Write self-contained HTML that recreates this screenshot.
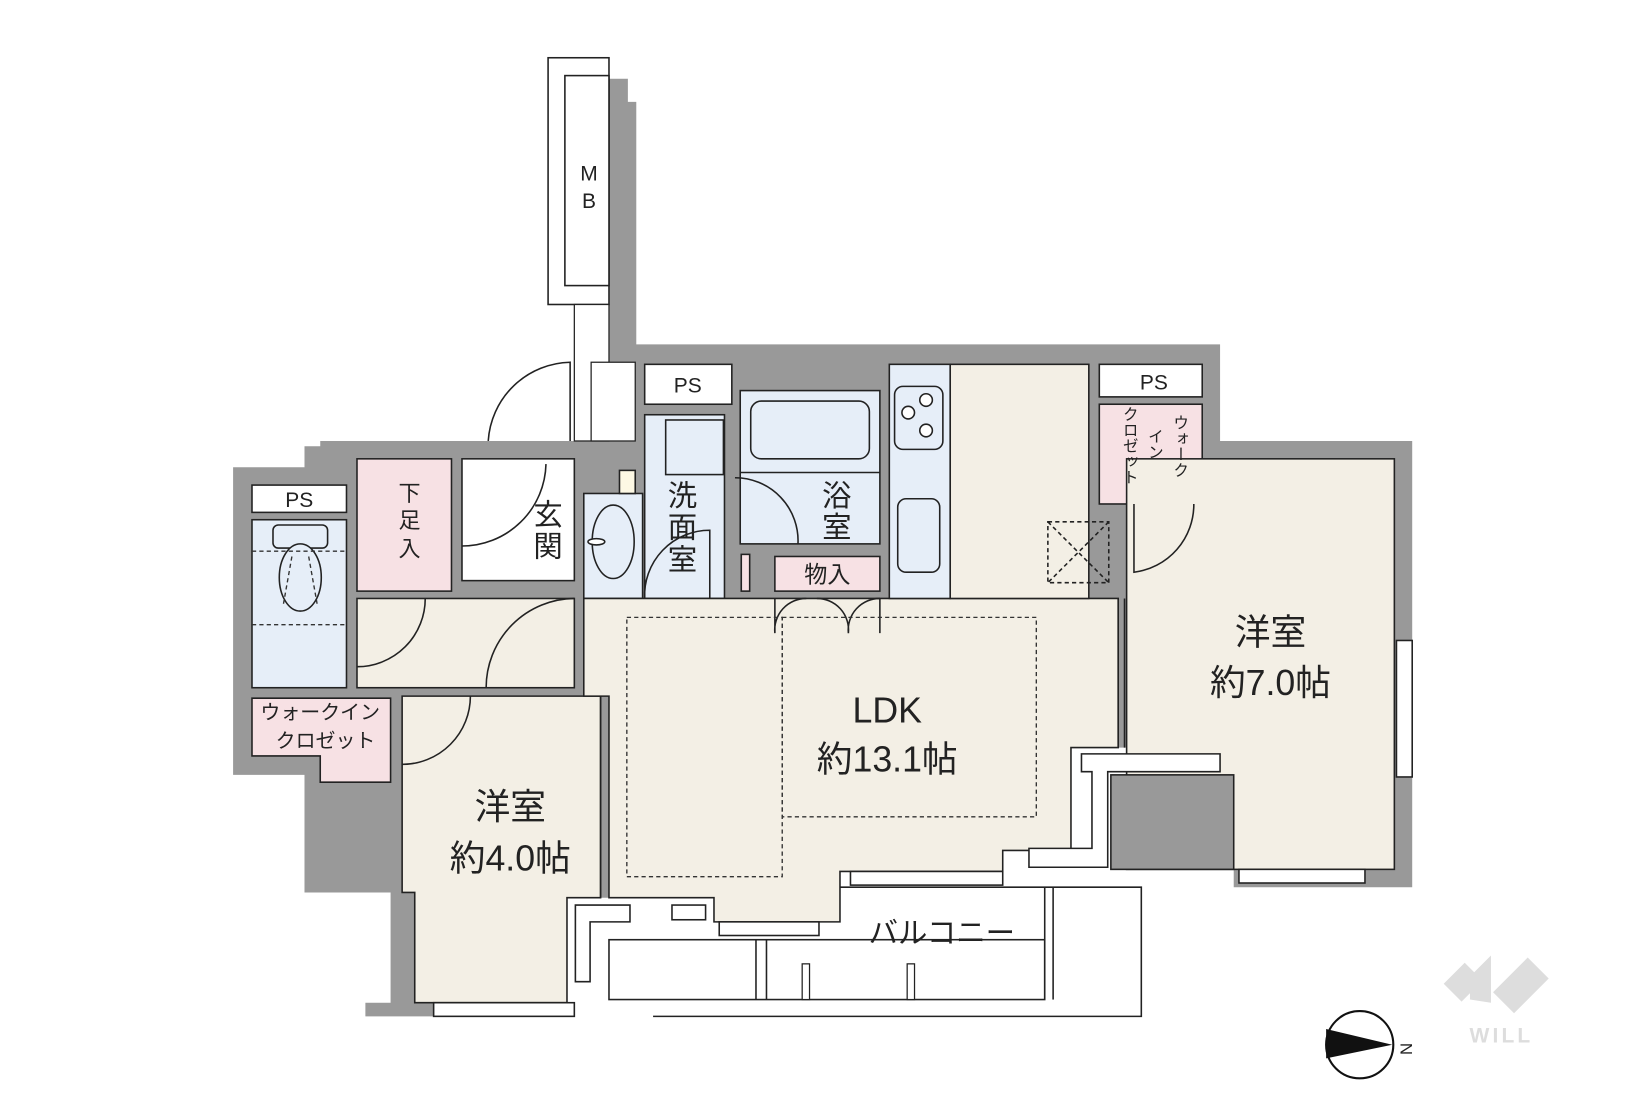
<!DOCTYPE html>
<html><head><meta charset="utf-8"><style>
html,body{margin:0;padding:0;background:#fff;}
svg{display:block;}
text{font-family:"Liberation Sans","Noto Sans CJK JP",sans-serif;fill:#222;}
</style></head><body>
<svg width="1639" height="1093" viewBox="0 0 1561 1041" preserveAspectRatio="none" xmlns="http://www.w3.org/2000/svg">
<rect width="1561" height="1041" fill="#fff"/>
<path d="M800,845 H1087 V968 H622" fill="#fff" stroke="#222" stroke-width="1.5"/>
<rect x="580" y="895" width="415" height="57" fill="#fff" stroke="#222" stroke-width="1.5"/>
<line x1="995" y1="845" x2="995" y2="952" stroke="#222" stroke-width="1.5"/>
<line x1="1003" y1="845" x2="1003" y2="952" stroke="#222" stroke-width="1.5"/>
<line x1="720" y1="895" x2="720" y2="952" stroke="#222" stroke-width="1.5"/>
<line x1="730" y1="895" x2="730" y2="952" stroke="#222" stroke-width="1.5"/>
<rect x="764" y="918" width="7" height="34" fill="#fff" stroke="#222" stroke-width="1.2"/>
<rect x="864" y="918" width="7" height="34" fill="#fff" stroke="#222" stroke-width="1.2"/>
<path d="M222,445 H290 V425 H305 V420 H547 V345 H580 V75 H598 V97 H606 V328 H1162 V420 H1345 V845 H1175 V712 H1020 V810 H955 V830 H800 V878 H680 V855 H540 V955 H547 V968 H348 V955 H372 V850 H290 V738 H222 Z" fill="#999"/>
<rect x="522" y="55" width="58" height="235" fill="#fff" stroke="#222" stroke-width="1.5"/>
<rect x="538" y="72" width="42" height="200" fill="#fff" stroke="#222" stroke-width="1.5"/>
<text x="561" y="172" font-size="20" text-anchor="middle">M</text>
<text x="561" y="198" font-size="20" text-anchor="middle">B</text>
<rect x="547" y="290" width="33" height="130" fill="#fff" stroke="#222" stroke-width="1.2"/>
<rect x="563" y="345" width="42" height="75" fill="#fff" stroke="#222" stroke-width="1.2"/>
<g stroke="#222" stroke-width="1.5">
<rect x="240" y="462" width="90" height="26" fill="#fff"/>
<rect x="240" y="495" width="90" height="160" fill="#e6eef8"/>
<rect x="340" y="437" width="90" height="126" fill="#f7e1e4"/>
<rect x="440" y="437" width="107" height="116" fill="#fff"/>
<rect x="340" y="570" width="207" height="85" fill="#f3efe5"/>
<path d="M240,665 H372 V745 H305 V720 H240 Z" fill="#f7e1e4"/>
<path d="M383,663 H572 V855 H540 V955 H395 V850 H383 Z" fill="#f3efe5"/>
<rect x="556" y="470" width="56" height="100" fill="#e6eef8"/>
<rect x="590" y="448" width="15" height="22" fill="#fdf8e4"/>
<rect x="614" y="395" width="76" height="175" fill="#e6eef8"/>
<rect x="614" y="347" width="83" height="38" fill="#fff"/>
<rect x="705" y="372" width="133" height="146" fill="#e6eef8"/>
<line x1="705" y1="450" x2="838" y2="450"/>
<rect x="738" y="530" width="100" height="33" fill="#f7e1e4"/>
<path d="M556,570 H1065 V712 H1020 V810 H955 V830 H800 V878 H680 V855 H580 V663 H556 Z" fill="#f3efe5"/>
<rect x="847" y="347" width="58" height="223" fill="#e6eef8"/>
<rect x="905" y="347" width="132" height="223" fill="#f3efe5"/>
<rect x="1047" y="347" width="98" height="31" fill="#fff"/>
<rect x="1047" y="385" width="98" height="95" fill="#f7e1e4"/>
<rect x="1073" y="437" width="255" height="391" fill="#f3efe5"/>
<rect x="1058" y="738" width="117" height="90" fill="#999"/>
<path d="M1030,718 H1162 V735 H1055 V826 H980 V808 H1040 V735 H1030 Z" fill="#fff"/>
<path d="M548,862 H600 V878 H562 V935 H548 Z" fill="#fff"/>
<rect x="640" y="862" width="32" height="14" fill="#fff"/>
<rect x="413" y="955" width="134" height="13" fill="#fff"/>
<rect x="685" y="878" width="95" height="13" fill="#fff"/>
<rect x="810" y="830" width="145" height="13" fill="#fff"/>
<rect x="1180" y="828" width="120" height="13" fill="#fff"/>
<rect x="1330" y="610" width="15" height="130" fill="#fff"/>
<line x1="1065" y1="570" x2="1065" y2="712"/>
<line x1="1071" y1="570" x2="1071" y2="712"/>
<line x1="572" y1="663" x2="572" y2="855"/>
<rect x="852" y="368" width="46" height="60" rx="8" fill="#e6eef8"/>
<circle cx="865" cy="393" r="6" fill="#fff"/><circle cx="882" cy="381" r="6" fill="#fff"/><circle cx="882" cy="410" r="6" fill="#fff"/>
<rect x="855" y="475" width="40" height="70" rx="8" fill="#e6eef8"/>
<rect x="715" y="382" width="113" height="55" rx="10" fill="#e6eef8"/>
<ellipse cx="584" cy="516" rx="20" ry="35" fill="#e6eef8"/>
<ellipse cx="568" cy="516" rx="8" ry="3" fill="#fff"/>
<rect x="260" y="500" width="52" height="22" rx="5" fill="#e6eef8"/>
<ellipse cx="286" cy="550" rx="20" ry="32" fill="#e6eef8"/>
<rect x="634" y="400" width="55" height="52" fill="none"/>
<rect x="998" y="497" width="58" height="58" fill="none" stroke-dasharray="4,3"/>
<path d="M998,497 L1056,555 M1056,497 L998,555" fill="none" stroke-dasharray="4,3"/>
<path d="M440,520 A80,80 0 0 0 520,442" fill="none"/>
<path d="M465,420 A80,80 0 0 1 543,345 V420" fill="none"/>
<path d="M340,635 A65,65 0 0 0 405,570" fill="none"/>
<path d="M463,655 A85,85 0 0 1 547,570" fill="none"/>
<path d="M383,728 A65,65 0 0 0 448,663" fill="none"/>
<path d="M614,570 A62,62 0 0 1 676,505 V570" fill="none"/>
<path d="M700,455 A60,60 0 0 1 760,518" fill="none"/>
<path d="M1080,480 V545 A65,65 0 0 0 1137,480" fill="none"/>
<path d="M738,603 A30,30 0 0 1 768,570 M808,603 A30,30 0 0 0 778,570 M808,603 A30,30 0 0 1 838,570 M738,570 V603 M838,570 V603" fill="none"/>
<rect x="706" y="528" width="8" height="35" fill="#f7e1e4"/>
</g>
<g fill="none" stroke="#333" stroke-width="1.3" stroke-dasharray="4,3">
<rect x="597" y="588" width="148" height="247"/>
<rect x="745" y="588" width="242" height="190"/>
<path d="M240,525 H330 M240,595 H330 M278,530 L270,575 M294,530 L302,575"/>
</g>
<g font-size="20" text-anchor="middle">
<text x="285" y="483">PS</text>
<text x="655" y="374">PS</text>
<text x="1099" y="371">PS</text>
</g>
<g font-size="24" text-anchor="middle">
<text x="390" y="477" font-size="21">下</text><text x="390" y="503" font-size="21">足</text><text x="390" y="530" font-size="21">入</text>
<text x="522" y="500" font-size="28">玄</text><text x="522" y="530" font-size="28">関</text>
<text x="650" y="482" font-size="28">洗</text><text x="650" y="512" font-size="28">面</text><text x="650" y="543" font-size="28">室</text>
<text x="797" y="482" font-size="28">浴</text><text x="797" y="512" font-size="28">室</text>
<text x="788" y="555" font-size="22">物入</text>
<text x="305" y="685" font-size="19">ウォークイン</text>
<text x="310" y="712" font-size="19">クロゼット</text>
</g>
<g font-size="15" text-anchor="start">
<text x="1123" y="395" writing-mode="tb">ウォーク</text>
<text x="1099" y="408" writing-mode="tb">イン</text>
<text x="1075" y="387" writing-mode="tb">クロゼット</text>
</g>
<g text-anchor="middle">
<text x="845" y="688" font-size="34">LDK</text>
<text x="845" y="735" font-size="34">約13.1帖</text>
<text x="1210" y="614" font-size="34">洋室</text>
<text x="1210" y="662" font-size="34">約7.0帖</text>
<text x="486" y="780" font-size="34">洋室</text>
<text x="486" y="829" font-size="34">約4.0帖</text>
<text x="897" y="898" font-size="28">バルコニー</text>
</g>
<circle cx="1295" cy="995" r="32" fill="#fff" stroke="#111" stroke-width="2"/>
<path d="M1263,980 L1326,995 L1263,1008 Z" fill="#111"/>
<text x="1340" y="1005" font-size="16" transform="rotate(90 1340 999)" text-anchor="middle">N</text>
<g fill="#ddd">
<path d="M1375,937 L1395,917 L1412,934 L1392,954 Z"/>
<path d="M1400,930 L1420,910 L1420,955 L1400,952 Z"/>
<path d="M1422,945 L1455,912 L1475,932 L1442,965 Z"/>
<text x="1430" y="993" font-size="20" font-weight="bold" text-anchor="middle" style="fill:#ddd" letter-spacing="3">WILL</text>
</g>
</svg>
</body></html>
